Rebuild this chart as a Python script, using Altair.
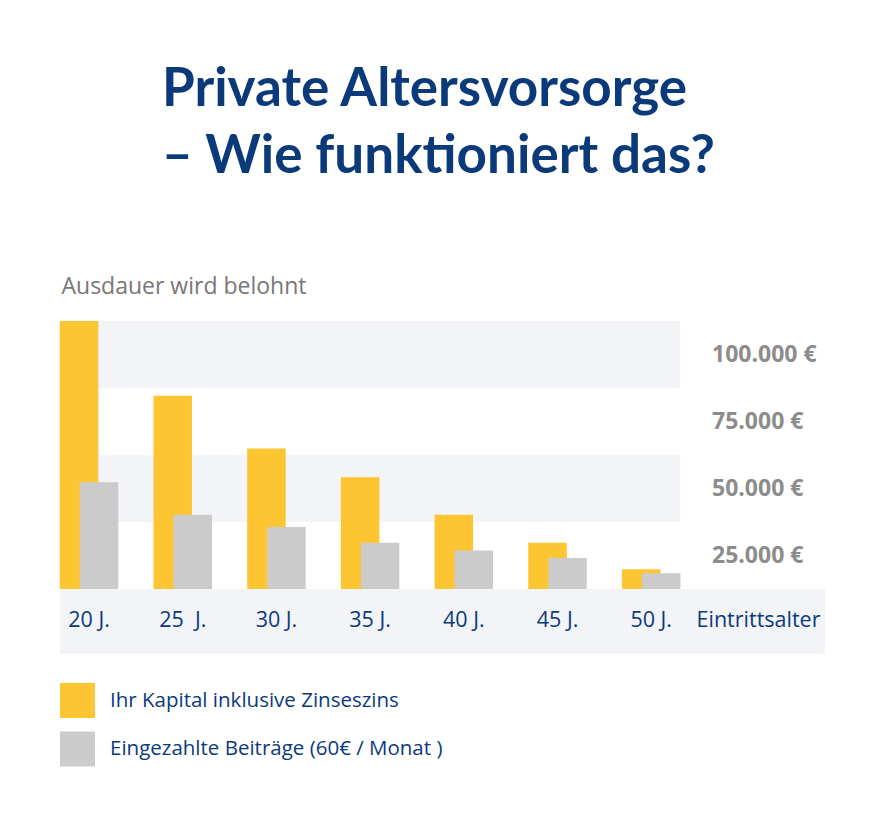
import altair as alt
import pandas as pd

# ---- data ----
ages = ["20 J.", "25 \u00a0J.", "30 J.", "35 J.", "40 J.", "45 J.", "50 J."]
kapital = [100000, 72100, 52400, 41700, 27700, 17300, 7400]
beitraege = [39800, 27700, 23100, 17300, 14400, 11600, 5900]
tick_values = [25000, 50000, 75000, 100000]
tick_labels = ["25.000 €", "50.000 €", "75.000 €", "100.000 €"]
series_names = ["Ihr Kapital inklusive Zinseszins", "Eingezahlte Beiträge (60€ / Monat )"]
axis_title = "Eintrittsalter"
subtitle = "Ausdauer wird belohnt"
title_lines = ["Private Altersvorsorge", "– Wie funktioniert das?"]

BLUE = "#0b3a7b"
YELLOW = "#fec532"
GREY = "#cbcbcb"
STRIPE = "#f2f4f8"
LABEL_GREY = "#8c8c8c"

X_MIN, X_MAX = -0.31, 7.855
STRIPE_END = 6.31
Y_MIN, Y_MAX = -24250, 100000
BAND = 25000

xscale = alt.Scale(domain=[X_MIN, X_MAX], nice=False, zero=False, padding=0)
yscale = alt.Scale(domain=[Y_MIN, Y_MAX], nice=False, zero=False, padding=0)
xaxis = alt.Axis(title=subtitle, labels=False, ticks=False, domain=False, grid=False,
                 orient="top", titleX=1, titleY=-28, titleAlign="left",
                 titleBaseline="alphabetic", titleFont="Open Sans", titleFontSize=23,
                 titleFontWeight="normal", titleColor="#777777", titleAngle=0)


def X(field):
    return alt.X(field, type="quantitative", scale=xscale, axis=xaxis)


def Y(field):
    return alt.Y(field, type="quantitative", scale=yscale, axis=None)


# ---- tables ----
n = len(ages)
bars = pd.DataFrame({
    "pos": list(range(n)) * 2,
    "value": kapital + beitraege,
    "series": [series_names[0]] * n + [series_names[1]] * n,
})

stripes = pd.DataFrame({
    "x0": [X_MIN] * 2 + [X_MIN],
    "x1": [STRIPE_END] * 2 + [X_MAX],
    "y0": [tick_values[0], tick_values[2], Y_MIN],
    "y1": [tick_values[1], tick_values[3], 0],
})

ylab = pd.DataFrame({
    "x": [6.649] * len(tick_values),
    "y": [v - BAND / 2 for v in tick_values],
    "label": tick_labels,
})

xlab = pd.DataFrame({
    "x": list(range(n)) + [7.145],
    "y": [-12000] * (n + 1),
    "label": ages + [axis_title],
})

bg = alt.Chart(stripes).mark_rect(color=STRIPE).encode(
    x=X("x0"), x2="x1", y=Y("y0"), y2="y1"
)

color = alt.Color(
    "series:N",
    scale=alt.Scale(domain=series_names, range=[YELLOW, GREY]),
    legend=alt.Legend(
        title=None, orient="none", legendX=0, legendY=362, direction="vertical",
        symbolType="square", symbolSize=1225, symbolStrokeWidth=0, symbolOpacity=1,
        labelFont="Open Sans", labelFontSize=20.5, labelColor=BLUE, labelOffset=15,
        rowPadding=13.5, padding=0, labelLimit=600,
    ),
)

bar_y = alt.Chart(bars).transform_filter(
    alt.datum.series == series_names[0]
).mark_bar(width=38.5, xOffset=-10).encode(
    x=X("pos"), y=Y("value"), y2=alt.datum(0), color=color
)

bar_g = alt.Chart(bars).transform_filter(
    alt.datum.series == series_names[1]
).mark_bar(width=38.5, xOffset=10).encode(
    x=X("pos"), y=Y("value"), y2=alt.datum(0), color=color
)

ytext = alt.Chart(ylab).mark_text(
    align="left", baseline="middle", font="Open Sans", fontSize=23,
    fontWeight="bold", color=LABEL_GREY
).encode(x=X("x"), y=Y("y"), text="label:N")

xtext = alt.Chart(xlab).mark_text(
    align="center", baseline="middle", font="Open Sans", fontSize=21.5, color=BLUE
).encode(x=X("x"), y=Y("y"), text="label:N")

chart = alt.layer(bg, bar_y, bar_g, ytext, xtext).properties(
    width=765,
    height=333,
    background="white",
    autosize=alt.AutoSizeParams(type="none"),
    padding={"left": 52, "top": 313, "right": 20, "bottom": 140},
    title=alt.TitleParams(
        text=title_lines, anchor="start", frame="group", dx=102,
        font="Lato", fontSize=53, fontWeight="bold", color=BLUE,
        lineHeight=67, offset=91,
    ),
).configure_view(stroke=None)

chart.save("out.html", embed_options={"renderer": "svg", "actions": False})
